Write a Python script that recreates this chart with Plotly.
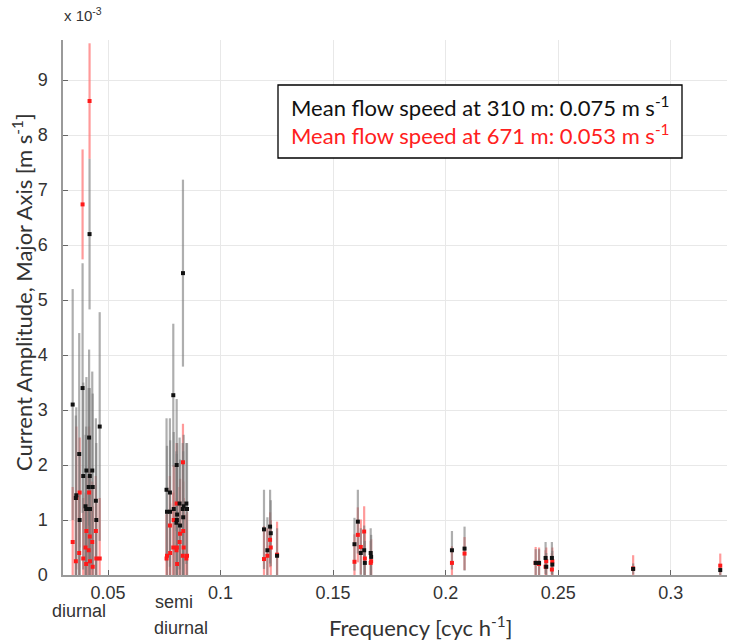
import plotly.graph_objects as go

# Tidal constituents (frequency in cyc/h)
names = ["ALP1","2Q1","SIG1","Q1","RHO1","O1","TAU1","BET1","NO1","CHI1","PI1","P1","K1","PSI1","PHI1","THE1","J1","SO1","OO1","UPS1",
         "OQ2","EPS2","2N2","MU2","N2","NU2","H1","M2","H2","MKS2","LDA2","L2","T2","S2","R2","K2","MSN2","ETA2",
         "MO3","M3","SO3","MK3","SK3",
         "MN4","M4","SN4","MS4","MK4","S4","SK4",
         "2MK5","2SK5",
         "2MN6","M6","2MS6","2MK6","2SM6","MSK6",
         "3MK7","M8"]
freq = [0.0343,0.0357,0.0359,0.0372,0.0374,0.0387,0.0390,0.0400,0.0403,0.0404,0.0414,0.0416,0.0418,0.0419,0.0420,0.0430,0.0432,0.0446,0.0448,0.0463,
        0.0760,0.0762,0.0775,0.0776,0.0790,0.0792,0.0804,0.0805,0.0806,0.0807,0.0818,0.0820,0.0832,0.0833,0.0834,0.0836,0.0848,0.0851,
        0.1193,0.1208,0.1220,0.1223,0.1251,
        0.1595,0.1610,0.1623,0.1638,0.1641,0.1667,0.1669,
        0.2028,0.2084,
        0.2400,0.2415,0.2444,0.2447,0.2472,0.2474,
        0.2833,0.3220]

# Amplitudes (x 10^-3 m/s) and confidence half-widths, 310 m (black)
amp_310 = [3.1,1.4,1.45,2.2,1.0,3.4,1.8,1.25,1.2,1.9,1.6,2.5,6.2,1.8,1.2,1.9,1.6,1.35,1.0,2.7,
           1.55,1.15,1.5,1.15,3.27,1.2,0.95,2.0,1.0,1.1,1.3,0.9,1.2,5.49,1.05,1.25,1.3,1.2,
           0.83,0.45,0.88,0.76,0.35,
           0.56,0.97,0.4,0.45,0.22,0.4,0.33,
           0.45,0.48,
           0.22,0.22,0.31,0.15,0.31,0.19,
           0.11,0.09]
err_310 = [2.1,1.5,1.6,2.2,1.2,2.27,1.7,1.3,1.5,1.7,1.8,1.6,1.37,1.6,1.3,1.8,1.7,1.5,1.4,2.08,
           1.3,1.2,1.35,1.3,1.3,1.4,1.3,1.2,1.2,1.3,1.2,1.2,1.2,1.7,1.2,1.3,1.1,1.2,
           0.72,0.6,0.67,0.6,0.5,
           0.48,0.58,0.45,0.45,0.4,0.45,0.4,
           0.35,0.4,
           0.25,0.25,0.29,0.25,0.29,0.25,
           0.1,0.1]

# 671 m (red)
amp_671 = [0.6,0.25,1.4,0.4,1.5,6.74,0.3,0.5,0.2,0.8,0.45,1.5,8.62,0.7,0.25,0.6,0.15,0.8,0.3,0.3,
           0.3,0.35,0.9,0.4,0.5,1.0,0.45,1.3,0.5,0.2,0.6,0.75,0.35,2.05,0.8,0.5,0.3,0.35,
           0.29,0.35,0.64,0.5,0.37,
           0.24,0.73,0.51,0.79,0.3,0.22,0.25,
           0.22,0.39,
           0.22,0.2,0.15,0.25,0.1,0.25,
           0.12,0.17]
err_671 = [1.0,1.2,1.3,1.1,1.0,1.0,1.1,1.0,1.0,1.0,1.1,1.2,1.05,1.2,1.0,1.1,1.1,1.0,1.0,1.1,
           0.8,0.8,0.9,0.9,1.0,1.0,0.9,1.1,0.9,0.9,1.0,1.0,1.0,0.7,0.9,0.9,0.8,0.8,
           0.6,0.5,0.5,0.5,0.6,
           0.5,0.5,0.5,0.46,0.45,0.4,0.4,
           0.3,0.3,
           0.29,0.3,0.3,0.25,0.3,0.25,
           0.24,0.22]

xticks = [0.05, 0.1, 0.15, 0.2, 0.25, 0.3]
xticklabels = ["0.05", "0.1", "0.15", "0.2", "0.25", "0.3"]
yticks = [0, 1, 2, 3, 4, 5, 6, 7, 8, 9]

W, H = 730, 643
L, R, T, B = 63, 3, 40, 68
pw, ph = W - L - R, H - T - B
def px(x): return (x - L) / pw
def py(y): return (H - B - y) / ph

fig = go.Figure()
# error bars (red first, grey on top)
fig.add_trace(go.Scatter(x=freq, y=amp_671, mode="markers",
    marker=dict(size=1, color="rgba(0,0,0,0)"),
    error_y=dict(type="data", array=err_671, color="rgba(255,120,120,0.75)", thickness=2.2, width=0),
    showlegend=False, hoverinfo="skip"))
fig.add_trace(go.Scatter(x=freq, y=amp_310, mode="markers",
    marker=dict(size=1, color="rgba(0,0,0,0)"),
    error_y=dict(type="data", array=err_310, color="rgba(120,120,120,0.6)", thickness=2.2, width=0),
    showlegend=False, hoverinfo="skip"))
# markers
fig.add_trace(go.Scatter(x=freq, y=amp_671, mode="markers",
    marker=dict(symbol="square", size=4, color="#ff1a1a"), showlegend=False))
fig.add_trace(go.Scatter(x=freq, y=amp_310, mode="markers",
    marker=dict(symbol="square", size=4, color="#111111"), showlegend=False))

tickfont = dict(family="Liberation Sans, Arial", size=18, color="#333333")
fig.update_xaxes(range=[0.03, 0.325], tickvals=xticks, ticktext=xticklabels,
                 showgrid=True, gridcolor="#e8e8e8", gridwidth=1, zeroline=False,
                 showline=True, linecolor="#9a9a9a", linewidth=2,
                 ticks="inside", ticklen=5, tickcolor="#666666", tickfont=tickfont,
                 ticklabelstandoff=0)
fig.update_yaxes(range=[0, 9.73], tickvals=yticks,
                 showgrid=True, gridcolor="#e8e8e8", gridwidth=1, zeroline=False,
                 showline=True, linecolor="#9a9a9a", linewidth=1.5,
                 ticks="inside", ticklen=5, tickcolor="#666666", tickfont=tickfont,
                 ticklabelstandoff=10)

labfont = dict(family="Lato, Open Sans", size=22, color="#333333")
shapes = [dict(type="rect", xref="paper", yref="paper",
               x0=px(278), x1=px(682), y0=py(158), y1=py(85),
               line=dict(color="black", width=1.3), fillcolor="white", layer="above")]
annotations = [
    dict(text="x 10<sup>-3</sup>", x=px(62), y=py(14), xref="paper", yref="paper",
         xanchor="left", yanchor="middle", showarrow=False,
         font=dict(family="Liberation Sans, Arial", size=15, color="#333333")),
    dict(text="Mean flow speed at 310 m: 0.075 m s<sup>-1</sup>", x=px(289), y=py(106),
         xref="paper", yref="paper", xanchor="left", yanchor="middle", showarrow=False,
         font=dict(family="Lato, Open Sans", size=22, color="#111111")),
    dict(text="Mean flow speed at 671 m: 0.053 m s<sup>-1</sup>", x=px(289), y=py(134),
         xref="paper", yref="paper", xanchor="left", yanchor="middle", showarrow=False,
         font=dict(family="Lato, Open Sans", size=22, color="#ff2020")),
    dict(text="diurnal", x=px(79), y=py(611), xref="paper", yref="paper",
         xanchor="center", yanchor="middle", showarrow=False, font=tickfont),
    dict(text="semi", x=px(153), y=py(602), xref="paper", yref="paper",
         xanchor="left", yanchor="middle", showarrow=False, font=tickfont),
    dict(text="diurnal", x=px(152), y=py(628), xref="paper", yref="paper",
         xanchor="left", yanchor="middle", showarrow=False, font=tickfont),
    dict(text="Frequency [cyc h<sup>-1</sup>]", x=px(420), y=py(626), xref="paper", yref="paper",
         xanchor="center", yanchor="middle", showarrow=False, font=labfont),
    dict(text="Current Amplitude, Major Axis [m s<sup>-1</sup>]", x=px(22), y=py(292),
         xref="paper", yref="paper", xanchor="center", yanchor="middle", textangle=-90,
         showarrow=False, font=labfont),
]

fig.update_layout(width=W, height=H, margin=dict(l=L, r=R, t=T, b=B),
                  plot_bgcolor="white", paper_bgcolor="white",
                  shapes=shapes, annotations=annotations)

fig.write_html("out.html")
